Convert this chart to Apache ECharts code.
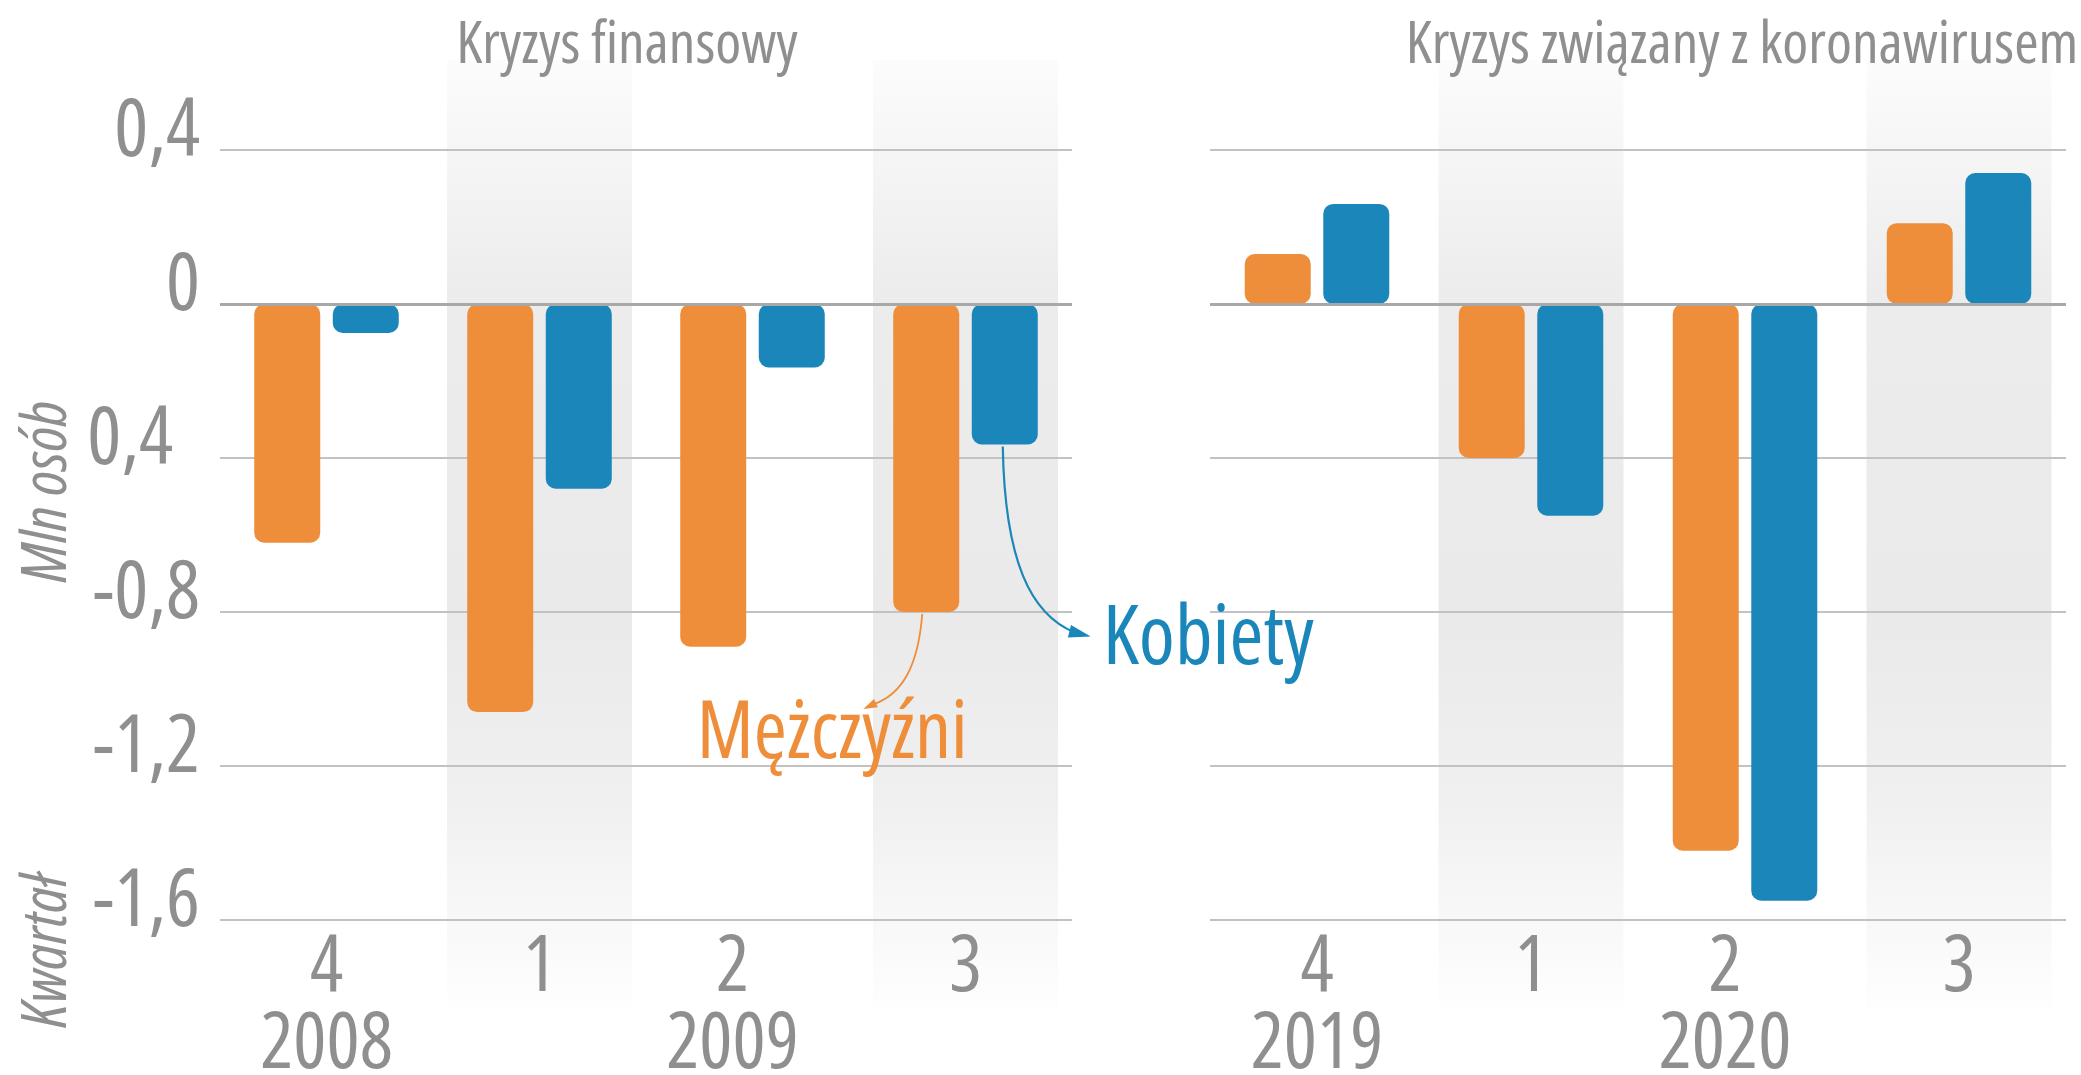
<!DOCTYPE html>
<html>
<head>
<meta charset="utf-8">
<script src="https://cdn.jsdelivr.net/npm/echarts@6/dist/echarts.min.js"></script>
<style>
html,body{margin:0;padding:0;background:#fff;}
#chart{width:2081px;height:1075px;}
</style>
</head>
<body>
<div id="chart"></div>
<script>
// ---- data ----
const categoriesLeft = ['4', '1', '2', '3'];
const yearsLeft = ['2008', '', '2009', ''];
const categoriesRight = ['4', '1', '2', '3'];
const yearsRight = ['2019', '', '2020', ''];
const menLeft = [-0.62, -1.06, -0.89, -0.80];
const womenLeft = [-0.075, -0.48, -0.165, -0.365];
const menRight = [0.13, -0.40, -1.42, 0.21];
const womenRight = [0.26, -0.55, -1.55, 0.34];
const yTickLabels = ['-1,6', '-1,2', '-0,8', '0,4', '0', '0,4'];
const panelTitles = ['Kryzys finansowy', 'Kryzys związany z koronawirusem'];
const seriesNames = ['Mężczyźni', 'Kobiety'];
const axisNames = ['Mln osób', 'Kwartał'];

// ---- style ----
const FAMILY = "'Open Sans', 'Roboto', sans-serif";
const STRETCH = 'condensed';
const GRAY = '#8f8f8f';
const ORANGE = '#EF8E3A';
const BLUE = '#1B86BA';
const Y_MIN = -1.6, Y_MAX = 0.4, Y_INT = 0.4;
const BAR_W = 66;
const BAR_GAP = '19%';

const chart = echarts.init(document.getElementById('chart'), null, {renderer: 'canvas'});

function xAxisFor(i, cats, years) {
  const txt = {color: GRAY, fontFamily: FAMILY, fontWeight: STRETCH, fontSize: 78};
  return {
    type: 'category', gridIndex: i, data: cats,
    axisLine: {show: false}, axisTick: {show: false}, splitLine: {show: false},
    axisLabel: Object.assign({
      interval: 0, lineHeight: 77, margin: 10,
      formatter: (v, idx) => {
        const st = idx === 2 ? 'sh' : 'n';
        return years[idx] ? '{' + st + '|' + v + '}\n{' + st + '|' + years[idx] + '}' : '{' + st + '|' + v + '}';
      },
      rich: {
        n: Object.assign({lineHeight: 77}, txt),
        sh: Object.assign({lineHeight: 77, padding: [0, 40, 0, 0]}, txt)
      }
    }, txt)
  };
}
function yAxisFor(i, showLabels) {
  return {
    type: 'value', gridIndex: i, min: Y_MIN, max: Y_MAX, interval: Y_INT,
    axisLine: {show: false}, axisTick: {show: false},
    splitLine: {lineStyle: {color: '#c2c2c2', width: 2}},
    axisLabel: {
      show: showLabels, color: GRAY, fontFamily: FAMILY, fontWeight: STRETCH,
      fontSize: 80, margin: 20, padding: [0, 0, 34, 0],
      formatter: v => {
        const k = Math.round((v - Y_MIN) / Y_INT);
        const t = yTickLabels[k];
        return k === 3 ? '{odd|' + t + '}' : t;
      },
      rich: {odd: {color: GRAY, fontFamily: FAMILY, fontWeight: STRETCH, fontSize: 80, padding: [0, 27, 0, 0]}}
    }
  };
}
function barSeries(name, data, color, gi) {
  return {
    name: name, type: 'bar', xAxisIndex: gi, yAxisIndex: gi, data: data, z: 3,
    barWidth: BAR_W, barGap: BAR_GAP,
    itemStyle: {color: color, borderRadius: 10}
  };
}
function zeroLine(gi) {
  return {
    type: 'line', xAxisIndex: gi, yAxisIndex: gi, data: [], z: 1, silent: true,
    markLine: {
      silent: true, symbol: 'none', label: {show: false},
      lineStyle: {color: '#a8a8a8', width: 3, type: 'solid'},
      data: [{yAxis: 0}]
    }
  };
}

const option = {
  animation: false,
  backgroundColor: '#fff',
  grid: [
    {left: 220, top: 150, width: 852, height: 770, outerBoundsMode: 'none', containLabel: false},
    {left: 1210, top: 150, width: 856, height: 770, outerBoundsMode: 'none', containLabel: false}
  ],
  xAxis: [xAxisFor(0, categoriesLeft, yearsLeft), xAxisFor(1, categoriesRight, yearsRight)],
  yAxis: [yAxisFor(0, true), yAxisFor(1, false)],
  series: [
    zeroLine(0), zeroLine(1),
    barSeries(seriesNames[0], menLeft, ORANGE, 0),
    barSeries(seriesNames[1], womenLeft, BLUE, 0),
    barSeries(seriesNames[0], menRight, ORANGE, 1),
    barSeries(seriesNames[1], womenRight, BLUE, 1)
  ]
};
chart.setOption(option);

// ---- decorations computed from the chart's own scales ----
const g = [];
const BAND_W = 185;
const bandFill = new echarts.graphic.LinearGradient(0, 0, 0, 1, [
  {offset: 0, color: '#fcfcfc'},
  {offset: 0.25, color: '#ececec'},
  {offset: 0.6, color: '#eaeaea'},
  {offset: 0.78, color: '#f0f0f0'},
  {offset: 1, color: '#fefefe'}
]);
[0, 1].forEach(gi => {
  [1, 3].forEach(ci => {
    const cx = chart.convertToPixel({gridIndex: gi}, [ci, 0])[0];
    g.push({type: 'rect', z: -10, silent: true,
      shape: {x: cx - BAND_W / 2, y: 60, width: BAND_W, height: 950},
      style: {fill: bandFill}});
  });
});
const F = (size, italic) => (italic ? 'italic ' : '') + STRETCH + ' ' + size + 'px ' + FAMILY;
// panel titles
g.push({type: 'text', x: 627, y: 46, z: 10,
  style: {text: panelTitles[0], fill: GRAY, font: F(59), align: 'center', verticalAlign: 'middle'}});
g.push({type: 'text', x: 1742, y: 46, z: 10,
  style: {text: panelTitles[1], fill: GRAY, font: F(59), align: 'center', verticalAlign: 'middle'}});
// axis names (rotated)
g.push({type: 'text', x: 48, y: 492, rotation: Math.PI / 2, z: 10,
  style: {text: axisNames[0], fill: GRAY, font: F(62, true), align: 'center', verticalAlign: 'middle'}});
g.push({type: 'text', x: 48, y: 951, rotation: Math.PI / 2, z: 10,
  style: {text: axisNames[1], fill: GRAY, font: F(62, true), align: 'center', verticalAlign: 'middle'}});

// annotation arrows, anchored at the bottoms of the last left-panel bars
const half = (BAR_W * 1.19) / 2;
const cx3 = chart.convertToPixel({gridIndex: 0}, [3, 0])[0];
const menEnd = [cx3 - half, chart.convertToPixel({gridIndex: 0}, [3, menLeft[3]])[1]];
const womenEnd = [cx3 + half, chart.convertToPixel({gridIndex: 0}, [3, womenLeft[3]])[1]];

function arrow(p0, c1, c2, p1, tip, color, lw, L, W) {
  const dx = tip[0] - p1[0], dy = tip[1] - p1[1];
  const len = Math.hypot(dx, dy) || 1;
  const ux = dx / len, uy = dy / len;
  const bx = tip[0] - ux * L, by = tip[1] - uy * L;
  const nx = -uy, ny = ux;
  return [
    {type: 'bezierCurve', z: 10, silent: true,
      shape: {x1: p0[0], y1: p0[1], cpx1: c1[0], cpy1: c1[1], cpx2: c2[0], cpy2: c2[1], x2: p1[0], y2: p1[1]},
      style: {stroke: color, lineWidth: lw, fill: null}},
    {type: 'polygon', z: 10, silent: true,
      shape: {points: [tip, [bx + nx * W / 2, by + ny * W / 2], [bx - nx * W / 2, by - ny * W / 2]]},
      style: {fill: color}}
  ];
}
const wx = womenEnd[0] - 2, wy = womenEnd[1] + 2;
g.push(...arrow([wx, wy], [wx + 2, wy + 115], [wx + 28, wy + 168], [wx + 72, wy + 186],
  [wx + 88, wy + 190], BLUE, 2.2, 22, 13));
const mx = menEnd[0] - 4, my = menEnd[1] + 2;
g.push(...arrow([mx, my], [mx - 4, my + 52], [mx - 20, my + 80], [mx - 48, my + 90],
  [mx - 59, my + 95], ORANGE, 1.8, 14, 9));

// series labels
g.push({type: 'text', x: wx + 100, y: wy + 194, z: 10,
  style: {text: seriesNames[1], fill: BLUE, font: F(82), align: 'left', verticalAlign: 'middle'}});
g.push({type: 'text', x: mx - 90, y: my + 121, z: 10,
  style: {text: seriesNames[0], fill: ORANGE, font: F(80), align: 'center', verticalAlign: 'middle'}});

chart.setOption({graphic: g});
</script>
</body>
</html>
